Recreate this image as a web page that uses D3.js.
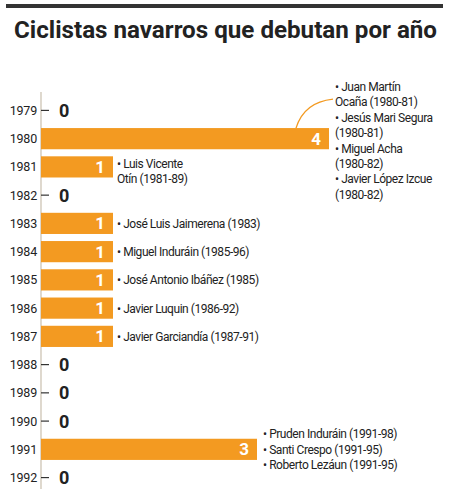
<!DOCTYPE html><html><head><meta charset="utf-8"><script src="https://cdn.jsdelivr.net/npm/d3@7"></script>
<style>body{margin:0;background:#fff}</style></head><body><script>
const years=["1979","1980","1981","1982","1983","1984","1985","1986","1987","1988","1989","1990","1991","1992"];
const values=[0,4,1,0,1,1,1,1,1,0,0,0,3,0];
const names=[[],["• Juan Martín","Ocaña (1980-81)","• Jesús Mari Segura","(1980-81)","• Miguel Acha","(1980-82)","• Javier López Izcue","(1980-82)"],["• Luis Vicente","Otín (1981-89)"],[],["• José Luis Jaimerena (1983)"],["• Miguel Induráin (1985-96)"],["• José Antonio Ibáñez (1985)"],["• Javier Luquin (1986-92)"],["• Javier Garciandía (1987-91)"],[],[],[],["• Pruden Induráin (1991-98)","• Santi Crespo (1991-95)","• Roberto Lezáun (1991-95)"],[]];
const W=449,H=489,F="Roboto,'Liberation Sans',sans-serif";
const svg=d3.select("body").append("svg").attr("width",W).attr("height",H);
svg.append("rect").attr("x",6).attr("y",4).attr("width",437).attr("height",4).attr("fill","#333");
svg.append("text").attr("x",14).attr("y",38).attr("textLength",423).attr("lengthAdjust","spacingAndGlyphs").attr("font-family",F).attr("font-weight","bold").attr("font-size",24).attr("fill","#222").text("Ciclistas navarros que debutan por año");
const x=d3.scaleLinear().domain([0,4]).range([41,329]);
const y=d3.scaleBand().domain(years).range([97,491]).paddingInner(0.25).paddingOuter(0.1);
svg.append("line").attr("x1",41).attr("x2",41).attr("y1",92).attr("y2",489).attr("stroke","#c9bfae").attr("stroke-width",1.2);
const g=svg.selectAll("g.r").data(years).enter().append("g");
g.append("text").attr("x",37).attr("y",d=>y(d)+y.bandwidth()/2+4.5).attr("text-anchor","end").attr("font-family",F).attr("font-size",12.5).attr("letter-spacing",-0.2).attr("fill","#222").text(d=>d);
g.each(function(d,i){
 const s=d3.select(this),v=values[i],cy=y(d)+y.bandwidth()/2;
 if(v>0){
  s.append("rect").attr("x",x(0)).attr("y",y(d)).attr("width",x(v)-x(0)).attr("height",y.bandwidth()).attr("fill","#f39a21");
  s.append("text").attr("x",x(v)-8).attr("y",cy+6).attr("text-anchor","end").attr("font-family",F).attr("font-weight","bold").attr("font-size",17).attr("fill","#fff").text(v);
 } else {
  s.append("line").attr("x1",41).attr("x2",49).attr("y1",cy).attr("y2",cy).attr("stroke","#333").attr("stroke-width",1.2);
  s.append("text").attr("x",59).attr("y",cy+6.5).attr("font-family",F).attr("font-weight","bold").attr("font-size",18).attr("fill","#222").text("0");
 }
 const n=names[i];if(!n.length)return;
 let lx,ly;
 if(v===4){lx=335;ly=91;}else if(v===3){lx=263;ly=cy-11;}else if(n.length===2){lx=117;ly=cy+1;}else{lx=117;ly=cy+4.5;}
 const step=v===4?15.4:15.5;
 n.forEach((t,k)=>s.append("text").attr("x",lx).attr("y",ly+k*step).attr("font-family",F).attr("font-size",12).attr("letter-spacing",-0.45).attr("fill","#222").text(t));
});
const y80=y("1980");
svg.append("path").attr("d",`M${x(4)-33},${y80} Q${x(4)-25},${y80-26} ${x(4)+4},${y80-29}`).attr("fill","none").attr("stroke","#f39a21").attr("stroke-width",1.3);
</script></body></html>
